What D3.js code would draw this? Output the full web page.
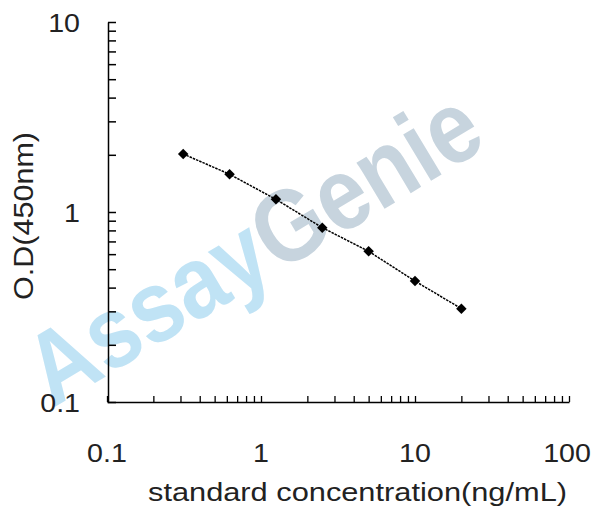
<!DOCTYPE html>
<html><head><meta charset="utf-8">
<script src="https://cdn.jsdelivr.net/npm/d3@7"></script>
<style>body{margin:0;background:#fff}svg{display:block}text{font-family:Arial,"Liberation Sans",sans-serif}</style>
</head><body>
<svg id="c" width="608" height="517"></svg>
<script>
const concentrations = [0.3125, 0.625, 1.25, 2.5, 5, 10, 20];
const odValues = [2.02, 1.58, 1.166, 0.827, 0.621, 0.433, 0.31];
const xTickLabels = [0.1, 1, 10, 100];
const yTickLabels = [0.1, 1, 10];

const svg = d3.select("#c");
const x = d3.scaleLog().domain([0.1, 100]).range([107, 569]);
const y = d3.scaleLog().domain([0.1, 10]).range([402, 22]);

// watermark
const wm = svg.append("text")
  .attr("transform", "translate(271,277) rotate(-31) scale(1,1.15)")
  .attr("text-anchor", "middle")
  .attr("font-size", 89).attr("font-weight", "bold")
  .style("font-family", "Arial,'Liberation Sans',sans-serif");
wm.append("tspan").attr("fill", "#c0e3f5").text("Assay");
wm.append("tspan").attr("fill", "#c7d4de").text("Genie");

// minor ticks
const minor = (dom) => { const t=[]; for (let d=dom[0]; d<dom[1]-1e-9; d*=10) for (let k=1;k<=10;k++) t.push(+(d*k).toPrecision(3)); return Array.from(new Set(t)); };

const xAxis = d3.axisBottom(x).tickValues(minor(x.domain())).tickSize(-6).tickFormat("").tickSizeOuter(0);
const gx = svg.append("g").attr("transform", "translate(0,402)").call(xAxis);
gx.select(".domain").attr("stroke", "#000").attr("stroke-width", 1.5);
gx.selectAll(".tick line").attr("stroke", "#000").attr("stroke-width", 1.3);

const yAxis = d3.axisLeft(y).tickValues(minor(y.domain())).tickSize(-8).tickFormat("").tickSizeOuter(0);
const gy = svg.append("g").attr("transform", "translate(108,0)").call(yAxis);
gy.select(".domain").attr("stroke", "#000").attr("stroke-width", 1.5);
gy.selectAll(".tick line").attr("stroke", "#000").attr("stroke-width", 1.5);

// tick labels
svg.selectAll(".xl").data(xTickLabels).enter().append("text")
  .attr("transform", d => `translate(${x(d) - (d===100?2:0)},462) scale(1.1,1)`)
  .attr("text-anchor", "middle")
  .attr("font-size", 26).attr("fill", "#222").text(d => d);
svg.selectAll(".yl").data(yTickLabels).enter().append("text")
  .attr("transform", d => `translate(80,${y(d) + 9.5}) scale(1.1,1)`)
  .attr("text-anchor", "end")
  .attr("font-size", 26).attr("fill", "#222").text(d => d);

// axis titles
svg.append("text").attr("x", 148).attr("y", 501)
  .attr("textLength", 419).attr("lengthAdjust", "spacingAndGlyphs")
  .attr("font-size", 26).attr("fill", "#222").text("standard concentration(ng/mL)");
svg.append("text").attr("transform", "translate(33,300) rotate(-90)")
  .attr("textLength", 168).attr("lengthAdjust", "spacingAndGlyphs")
  .attr("font-size", 28).attr("fill", "#222").text("O.D(450nm)");

// line
const pts = concentrations.map((c,i)=>[c, odValues[i]]);
svg.append("path").datum(pts)
  .attr("d", d3.line().x(d=>x(d[0])).y(d=>y(d[1])))
  .attr("fill", "none").attr("stroke", "#000").attr("stroke-width", 1.5).attr("stroke-dasharray", "2.5,1");

// markers
svg.selectAll(".m").data(pts).enter().append("path")
  .attr("transform", d => `translate(${x(d[0])},${y(d[1])})`)
  .attr("d", d3.symbol(d3.symbolDiamond2, 70)())
  .attr("fill", "#000");
</script>
</body></html>
